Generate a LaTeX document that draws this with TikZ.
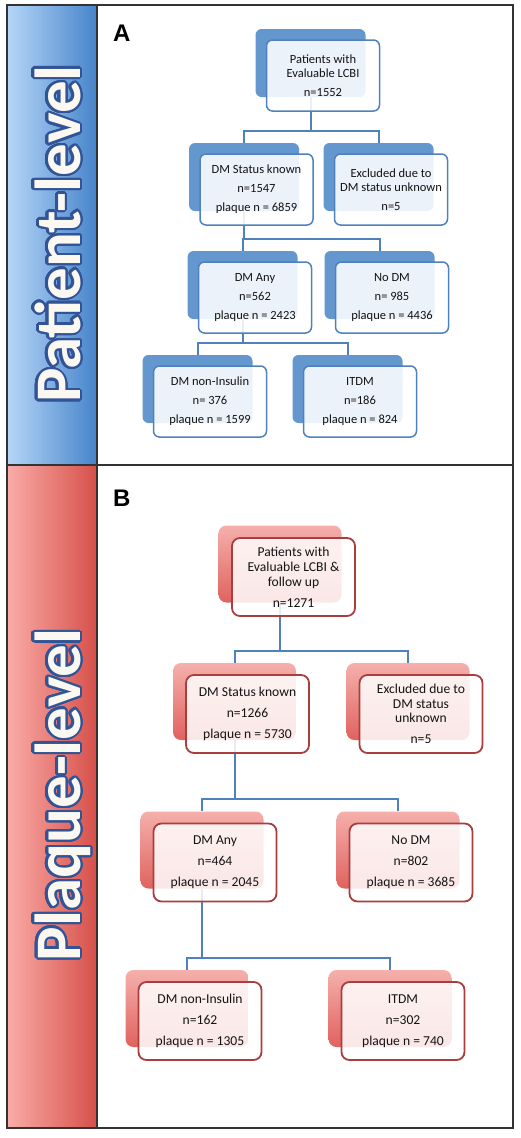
\documentclass[tikz,border=0pt]{standalone}
\usepackage{fontspec}
\setmainfont{Carlito}
\newfontfamily\panelfont{Liberation Sans}
\usepackage[copies]{contour}
\usepackage{tikz}
\contourlength{2.2pt}
\contournumber{32}
\definecolor{stripbluel}{RGB}{182, 214, 248}
\definecolor{stripblued}{RGB}{70, 132, 202}
\definecolor{stripredl}{RGB}{250, 172, 168}
\definecolor{stripredd}{RGB}{214, 80, 74}
\definecolor{boxblue}{RGB}{100, 151, 206}
\definecolor{lineblue}{RGB}{79, 129, 189}
\definecolor{pinklight}{RGB}{245, 176, 172}
\definecolor{reddeep}{RGB}{224, 98, 94}
\definecolor{linered}{RGB}{170, 62, 62}
\definecolor{outlineblue}{RGB}{50, 84, 150}
\definecolor{offwhite}{RGB}{250, 248, 240}
\definecolor{textdark}{RGB}{20, 20, 20}
\tikzstyle{frame} = [
    line width=1.2pt,
    draw=black!80
]
\tikzstyle{backA} = [
    rectangle,
    rounded corners=6pt,
    minimum width=110pt,
    minimum height=68pt,
    fill=boxblue
]
\tikzstyle{frontA} = [
    rectangle,
    rounded corners=6pt,
    minimum width=113pt,
    minimum height=71pt,
    inner sep=0pt,
    draw=lineblue,
    line width=1.5pt,
    fill=white,
    fill opacity=0.88,
    text opacity=1,
    text=textdark,
    align=center,
    font=\fontsize{12.5}{13.5}\selectfont
]
\tikzstyle{backB} = [
    rectangle,
    rounded corners=8pt,
    minimum width=123pt,
    minimum height=77pt,
    top color=pinklight,
    bottom color=reddeep
]
\tikzstyle{frontB} = [
    rectangle,
    rounded corners=8pt,
    minimum width=123pt,
    minimum height=78pt,
    inner sep=0pt,
    draw=linered,
    line width=1.8pt,
    fill=white,
    fill opacity=0.85,
    text opacity=1,
    text=textdark,
    align=center,
    font=\fontsize{13.6}{14.8}\selectfont
]
\tikzstyle{link} = [
    line width=2pt,
    draw=lineblue
]
\tikzstyle{sidelabel} = [
    rotate=90,
    anchor=base,
    inner sep=0pt,
    text=offwhite,
    font=\bfseries\fontsize{65}{68}\selectfont
]
\tikzstyle{panel} = [
    anchor=north west,
    inner sep=0pt,
    font=\panelfont\bfseries\fontsize{24}{24}\selectfont
]

\begin{document}
\begin{tikzpicture}[x=1pt, y=-1pt]
    \useasboundingbox (0,0) rectangle (520,1138);
    % side strips
    \shade[left color=stripbluel, right color=stripblued] (7,5) rectangle (97,465);
    \shade[left color=stripredl, right color=stripredd] (7,465) rectangle (97,1128);
    \draw[frame] (7,5) rectangle (513,1128);
    \draw[frame] (97,5) -- (97,1128);
    \draw[frame] (7,465) -- (513,465);
    \node (Aside) [sidelabel] at (80,234) {\contour{outlineblue}{Patient-level}};
    \node (Bside) [sidelabel] at (80,795) {\contour{outlineblue}{Plaque-level}};
    \node (Apanel) [panel] at (113,25) {A};
    \node (Bpanel) [panel] at (113,490) {B};

    % panel A
    \node (Atopsh) [backA] at (310.5,63) {};
    \node (Aknownsh) [backA] at (244,177) {};
    \node (Aexclsh) [backA] at (378.5,177) {};
    \node (Aanysh) [backA] at (242.5,285) {};
    \node (Anodmsh) [backA] at (379.5,285) {};
    \node (Anoninssh) [backA] at (197.5,389) {};
    \node (Aitdmsh) [backA] at (347.5,389) {};
    \draw[link] (Atopsh.south) |- ([yshift=12pt]Aknownsh.north) -- (Aknownsh.north);
    \draw[link] (Atopsh.south) |- ([yshift=12pt]Aexclsh.north) -- (Aexclsh.north);
    \draw[link] (Aknownsh.south) |- ([yshift=12pt]Aanysh.north) -- (Aanysh.north);
    \draw[link] (Aknownsh.south) |- ([yshift=12pt]Anodmsh.north) -- (Anodmsh.north);
    \draw[link] (Aanysh.south) |- ([yshift=12pt]Anoninssh.north) -- (Anoninssh.north);
    \draw[link] (Aanysh.south) |- ([yshift=12pt]Aitdmsh.north) -- (Aitdmsh.north);
    \node (Atop) [frontA] at ([shift={(12.5,12.5)}]Atopsh.center) {Patients with\\Evaluable LCBI\\[5.5pt]n=1552};
    \node (Aknown) [frontA] at ([shift={(12.5,12.5)}]Aknownsh.center) {DM Status known\\[5.5pt]n=1547\\[5.5pt]plaque n = 6859};
    \node (Aexcl) [frontA] at ([shift={(12.5,12.5)}]Aexclsh.center) {Excluded due to\\DM status unknown\\[5.5pt]n=5};
    \node (Aany) [frontA] at ([shift={(12.5,12.5)}]Aanysh.center) {DM Any\\[5.5pt]n=562\\[5.5pt]plaque n = 2423};
    \node (Anodm) [frontA] at ([shift={(12.5,12.5)}]Anodmsh.center) {No DM\\[5.5pt]n= 985\\[5.5pt]plaque n = 4436};
    \node (Anonins) [frontA] at ([shift={(12.5,12.5)}]Anoninssh.center) {DM non-Insulin\\[5.5pt]n= 376\\[5.5pt]plaque n = 1599};
    \node (Aitdm) [frontA] at ([shift={(12.5,12.5)}]Aitdmsh.center) {ITDM\\[5.5pt]n=186\\[5.5pt]plaque n = 824};

    % panel B
    \node (Btopsh) [backB] at (280,564) {};
    \node (Bknownsh) [backB] at (234.5,701.5) {};
    \node (Bexclsh) [backB] at (408,701.5) {};
    \node (Banysh) [backB] at (202,850) {};
    \node (Bnodmsh) [backB] at (398,850) {};
    \node (Bnoninssh) [backB] at (187,1008.5) {};
    \node (Bitdmsh) [backB] at (390,1008.5) {};
    \draw[link] (Btopsh.south) |- ([yshift=12pt]Bknownsh.north) -- (Bknownsh.north);
    \draw[link] (Btopsh.south) |- ([yshift=12pt]Bexclsh.north) -- (Bexclsh.north);
    \draw[link] (Bknownsh.south) |- ([yshift=12pt]Banysh.north) -- (Banysh.north);
    \draw[link] (Bknownsh.south) |- ([yshift=12pt]Bnodmsh.north) -- (Bnodmsh.north);
    \draw[link] (Banysh.south) |- ([yshift=12pt]Bnoninssh.north) -- (Bnoninssh.north);
    \draw[link] (Banysh.south) |- ([yshift=12pt]Bitdmsh.north) -- (Bitdmsh.north);
    \node (Btop) [frontB] at ([shift={(13.5,13)}]Btopsh.center) {Patients with\\Evaluable LCBI \&\\follow up\\[6.2pt]n=1271};
    \node (Bknown) [frontB] at ([shift={(13,12.5)}]Bknownsh.center) {DM Status known\\[6.2pt]n=1266\\[6.2pt]plaque n = 5730};
    \node (Bexcl) [frontB] at ([shift={(13,12.5)}]Bexclsh.center) {Excluded due to\\DM status\\unknown\\[6.2pt]n=5};
    \node (Bany) [frontB] at ([shift={(13,12.5)}]Banysh.center) {DM Any\\[6.2pt]n=464\\[6.2pt]plaque n = 2045};
    \node (Bnodm) [frontB] at ([shift={(13,12.5)}]Bnodmsh.center) {No DM\\[6.2pt]n=802\\[6.2pt]plaque n = 3685};
    \node (Bnonins) [frontB] at ([shift={(13,12.5)}]Bnoninssh.center) {DM non-Insulin\\[6.2pt]n=162\\[6.2pt]plaque n = 1305};
    \node (Bitdm) [frontB] at ([shift={(13,12.5)}]Bitdmsh.center) {ITDM\\[6.2pt]n=302\\[6.2pt]plaque n = 740};
\end{tikzpicture}
\end{document}
